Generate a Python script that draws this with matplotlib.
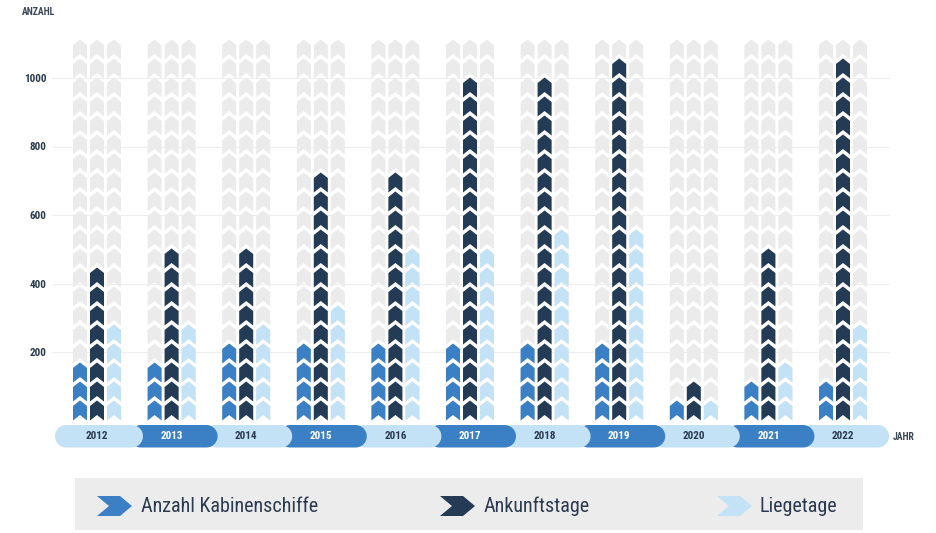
import numpy as np
import matplotlib
matplotlib.use('Agg')
import matplotlib.pyplot as plt
from matplotlib.patches import Polygon, Rectangle
from matplotlib.collections import PolyCollection

plt.rcParams['font.family'] = ['Liberation Sans Narrow', 'Roboto Condensed', 'DejaVu Sans']

# Daten
years = [2012, 2013, 2014, 2015, 2016, 2017, 2018, 2019, 2020, 2021, 2022]
kabinenschiffe = [171, 171, 226, 226, 226, 226, 226, 226, 60, 115, 115]
ankunftstage = [446, 498, 498, 720, 713, 989, 989, 1044, 115, 498, 1044]
liegetage = [276, 279, 279, 331, 498, 498, 550, 550, 60, 171, 279]
y_max = 1100
y_ticks = [200, 400, 600, 800, 1000]
series_names = ['Anzahl Kabinenschiffe', 'Ankunftstage', 'Liegetage']

c_blue = '#3b7fc4'
c_dark = '#243b55'
c_light = '#c3e2f6'
c_grey = '#ebebeb'
c_text = '#2b3a4f'

W, H = 937, 533
fig = plt.figure(figsize=(W / 100, H / 100), dpi=100)

# Pixel-Skalen des Originals
px_x = 74.6      # px pro Jahr
px_y = 0.3425    # px pro Einheit
ax_l, ax_r, ax_t, ax_b = 52, 890, 30, 455
ax = fig.add_axes([ax_l / W, (H - ax_b) / H, (ax_r - ax_l) / W, (ax_b - ax_t) / H])
ax.set_xlim((ax_l - 97) / px_x, (ax_r - 97) / px_x)
ax.set_ylim((420.5 - ax_b) / px_y, (420.5 - ax_t) / px_y)

# Chevron-Geometrie in Dateneinheiten
wh = 7 / px_x
ch_h = 14.5 / px_y
ch_d = 5.5 / px_y
period = 19 / px_y
offset = 17 / px_x


def chevron(xc, y0):
    return [(xc - wh, y0), (xc, y0 + ch_d), (xc + wh, y0), (xc + wh, y0 + ch_h),
            (xc, y0 + ch_h + ch_d), (xc - wh, y0 + ch_h)]


def stack(xc, value):
    n = int(round(value / period))
    return [chevron(xc, k * period) for k in range(n)]


grey, cols = [], {c_blue: [], c_dark: [], c_light: []}
for i, yr in enumerate(years):
    for j, (vals, col) in enumerate([(kabinenschiffe, c_blue), (ankunftstage, c_dark), (liegetage, c_light)]):
        xc = i + (j - 1) * offset
        grey += stack(xc, y_max)
        cols[col] += stack(xc, vals[i])

ax.add_collection(PolyCollection(grey, facecolors=c_grey, edgecolors='none', zorder=2))
for col, polys in cols.items():
    ax.add_collection(PolyCollection(polys, facecolors=col, edgecolors='none', zorder=3))

# Jahresband
yb, yt = (420.5 - 447.5) / px_y, (420.5 - 425) / px_y
yc = (yb + yt) / 2
rx, ry = 11.25 / px_x, (yt - yb) / 2


def pill(L, R):
    a1 = np.linspace(np.pi / 2, 3 * np.pi / 2, 30)
    a2 = np.linspace(-np.pi / 2, np.pi / 2, 30)
    left = np.column_stack([L + rx + rx * np.cos(a1), yc + ry * np.sin(a1)])
    right = np.column_stack([R - rx + rx * np.cos(a2), yc + ry * np.sin(a2)])
    return np.vstack([left, right])


for i in range(len(years) - 1, -1, -1):
    fc = c_light if i % 2 == 0 else c_blue
    ax.add_patch(Polygon(pill(i - 42 / px_x, i + 46 / px_x), closed=True, facecolor=fc,
                         edgecolor='none', zorder=4))
    ax.text(i, yc, str(years[i]), ha='center', va='center', fontsize=8, fontweight='bold',
            color=c_text if i % 2 == 0 else 'white', zorder=5)

ax.set_yticks(y_ticks)
ax.set_yticklabels([str(t) for t in y_ticks], fontsize=8, fontweight='bold', color=c_text)
ax.set_xticks([])
ax.tick_params(axis='y', length=0, pad=4)
ax.yaxis.grid(True, color='#eeeeee', lw=0.8)
ax.set_axisbelow(True)
for s in ax.spines.values():
    s.set_visible(False)

fig.text(22 / W, 1 - 12 / H, 'ANZAHL', fontsize=7, fontweight='bold', color='#3a4656', va='center')
fig.text(893 / W, 1 - 437 / H, 'JAHR', fontsize=7, fontweight='bold', color='#3a4656', va='center')

# Legende
lax = fig.add_axes([0, 0, 1, 1], zorder=-1)
lax.set_xlim(0, W)
lax.set_ylim(H, 0)
lax.axis('off')
lax.add_patch(Rectangle((75, 478), 788, 52, facecolor='#ececec', edgecolor='none'))
for x0, col, name, tx in [(97, c_blue, series_names[0], 141), (440, c_dark, series_names[1], 484),
                          (717, c_light, series_names[2], 760)]:
    w, d, ym, hh = 35, 12, 506, 10
    lax.add_patch(Polygon([(x0, ym - hh), (x0 + w - d, ym - hh), (x0 + w, ym), (x0 + w - d, ym + hh),
                           (x0, ym + hh), (x0 + d, ym)], closed=True, facecolor=col, edgecolor='none'))
    lax.text(tx, ym, name, fontsize=14.5, color=c_text, va='center')

fig.savefig('out.png', dpi=100)
